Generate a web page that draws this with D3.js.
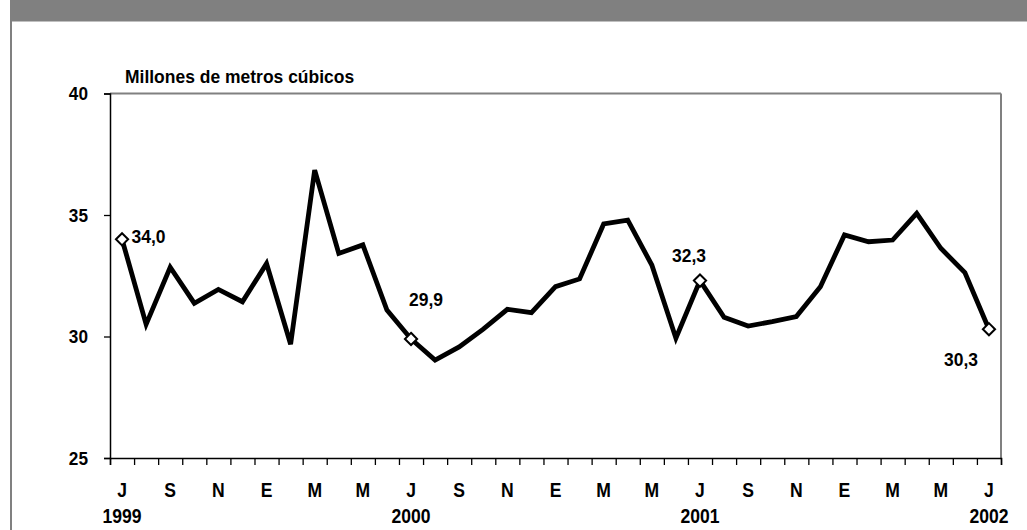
<!DOCTYPE html>
<html>
<head>
<meta charset="utf-8">
<script src="https://cdn.jsdelivr.net/npm/d3@7"></script>
<style>
  html, body { margin: 0; padding: 0; background: #fff; }
  svg { display: block; }
  text { font-family: "Liberation Sans", Arial, sans-serif; font-weight: bold; fill: #000; }
</style>
</head>
<body>
<svg id="chart" width="1027" height="530"></svg>
<script>
// ---- data ----
const monthInitials = ["J","A","S","O","N","D","E","F","M","A","M","J",
                       "J","A","S","O","N","D","E","F","M","A","M","J",
                       "J","A","S","O","N","D","E","F","M","A","M","J","J"];
const values = [34.0, 30.5, 32.85, 31.37, 31.94, 31.43, 33.0, 29.68, 36.85, 33.42, 33.77, 31.09,
                29.9, 29.03, 29.57, 30.3, 31.12, 30.98, 32.05, 32.37, 34.63, 34.79, 32.94, 29.93,
                32.3, 30.79, 30.43, 30.61, 30.82, 32.05, 34.18, 33.9, 33.97, 35.07, 33.63, 32.63, 30.3];
const yearLabels = [{i: 0, label: "1999"}, {i: 12, label: "2000"}, {i: 24, label: "2001"}, {i: 36, label: "2002"}];
const highlighted = [0, 12, 24, 36];
const pointLabels = ["34,0", "29,9", "32,3", "30,3"];
const yTicks = [25, 30, 35, 40];
const unitTitle = "Millones de metros cúbicos";

// ---- layout ----
const svg = d3.select("#chart");
const L = 110, R = 1001, T = 93.5, B = 458;
const SX = 0.9; // horizontal condensation of the text

function addText(g, x, y, str, size, anchor, sx) {
  return g.append("text")
    .attr("transform", `translate(${x},${y}) scale(${sx},1)`)
    .attr("text-anchor", anchor || "start")
    .attr("font-size", size)
    .text(str);
}

// frame
svg.append("rect").attr("x", 10).attr("y", 0).attr("width", 1017).attr("height", 21.5).attr("fill", "#808080");
svg.append("line").attr("x1", 11).attr("x2", 11).attr("y1", 21).attr("y2", 530)
   .attr("stroke", "#808080").attr("stroke-width", 2);

const idx = d3.range(values.length);
const x = d3.scaleBand().domain(idx).range([L, R]).padding(0);
const xc = i => x(i) + x.bandwidth() / 2;
const xb = d3.scaleLinear().domain([0, values.length]).range([L, R]);
const y = d3.scaleLinear().domain([25, 40]).range([B, T]);

// plot border (top & right gray)
svg.append("line").attr("x1", L).attr("x2", R).attr("y1", T).attr("y2", T)
   .attr("stroke", "#808080").attr("stroke-width", 2);
svg.append("line").attr("x1", R).attr("x2", R).attr("y1", T).attr("y2", B)
   .attr("stroke", "#808080").attr("stroke-width", 2);

// y axis
const yAxis = svg.append("g").attr("transform", `translate(${L},0)`)
  .call(d3.axisLeft(y).tickValues(yTicks).tickSize(6).tickFormat(""));
yAxis.select(".domain").attr("stroke", "#000").attr("stroke-width", 1.5);
yAxis.selectAll(".tick line").attr("stroke", "#000").attr("stroke-width", 1.3);
const yLab = svg.append("g");
yTicks.forEach(v => addText(yLab, 88, y(v) + 6.5, d3.format("d")(v), 18.5, "end", 0.93));

// x axis (ticks at category boundaries)
const xAxis = svg.append("g").attr("transform", `translate(0,${B})`)
  .call(d3.axisBottom(xb).tickValues(d3.range(values.length + 1)).tickSize(7).tickFormat(""));
xAxis.select(".domain").attr("stroke", "#000").attr("stroke-width", 1.5);
xAxis.selectAll(".tick line").attr("stroke", "#000").attr("stroke-width", 1.3);

// month labels every other category
const mLab = svg.append("g");
idx.filter(i => i % 2 === 0).forEach(i => addText(mLab, xc(i), 496.5, monthInitials[i], 19.5, "middle", SX));

// year labels
const yrLab = svg.append("g");
yearLabels.forEach(d => addText(yrLab, xc(d.i), 522.5, d.label, 19.5, "middle", SX));

// unit title
addText(svg, 125, 82.7, unitTitle, 19, "start", 0.92);

// line
const line = d3.line().x((d, i) => xc(i)).y(d => y(d));
svg.append("path").datum(values)
  .attr("d", line).attr("fill", "none").attr("stroke", "#000")
  .attr("stroke-width", 4.8).attr("stroke-linejoin", "miter");

// markers
const diamond = d3.symbol().type(d3.symbolDiamond2).size(95);
svg.append("g").selectAll("path")
  .data(highlighted)
  .join("path")
  .attr("transform", i => `translate(${xc(i)},${y(values[i])})`)
  .attr("d", diamond)
  .attr("fill", "#fff").attr("stroke", "#000").attr("stroke-width", 2);

// point labels
const labelPos = [
  {dx: 9.5, dy: 3.5, anchor: "start"},
  {dx: 15, dy: -33, anchor: "middle"},
  {dx: -11, dy: -19, anchor: "middle"},
  {dx: -28, dy: 36.5, anchor: "middle"}
];
const pLab = svg.append("g");
highlighted.forEach((i, k) =>
  addText(pLab, xc(i) + labelPos[k].dx, y(values[i]) + labelPos[k].dy, pointLabels[k], 19, labelPos[k].anchor, 0.92));
</script>
</body>
</html>
